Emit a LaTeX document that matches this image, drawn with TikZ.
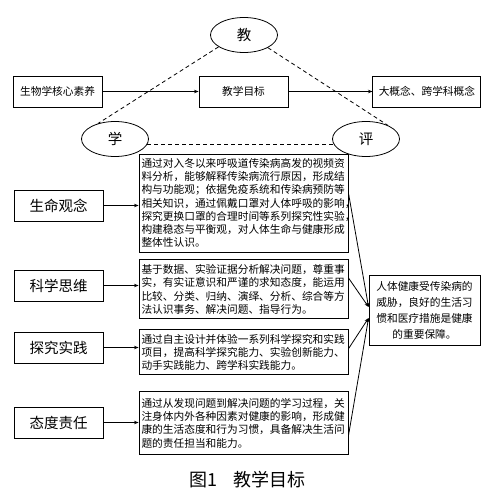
\documentclass[tikz,border=0pt]{standalone}
\usepackage{fontspec}
\setmainfont{Noto Sans CJK SC}
\usetikzlibrary{positioning,shapes.geometric,arrows.meta}

\begin{document}
\begin{tikzpicture}[x=1bp, y=-1bp, line width=0.8bp,
    every node/.style={inner sep=2bp},
    box/.style={draw, line width=0.9bp, minimum height=31bp, font=\fontsize{10.7bp}{12bp}\selectfont},
    lbl/.style={draw, line width=0.9bp, minimum width=89bp, minimum height=31bp, font=\fontsize{14.5bp}{16bp}\selectfont},
    txt/.style={draw, line width=0.9bp, text width=204bp, inner xsep=2.5bp, align=left, font=\fontsize{10.7bp}{13.3bp}\selectfont},
    oval/.style={draw, ellipse, minimum width=67bp, minimum height=35bp, font=\fontsize{14.5bp}{16bp}\selectfont},
    arr/.style={-{Stealth[length=4.5bp,width=3.5bp]}},
    link/.style={dash pattern=on 4bp off 3bp}]
    \useasboundingbox (0,0) rectangle (494,497);

    % 教 学 评
    \node[oval] (jiao) at (244,35) {教};
    \node[oval] (xue) at (115,139) {学};
    \node[oval] (ping) at (366,139) {评};

    \node[box, minimum width=89bp] (aim) at (243.5,91.5) {教学目标};
    \node[box, minimum width=89bp] (core) [left=96bp of aim] {生物学核心素养};
    \node[box, minimum width=108bp] (big) [right=84bp of aim] {大概念、跨学科概念};

    \node[txt, minimum height=98bp] (tlife) at (243.5,203) {通过对入冬以来呼吸道传染病高发的视频资\\料分析，能够解释传染病流行原因，形成结\\构与功能观；依据免疫系统和传染病预防等\\相关知识，通过佩戴口罩对人体呼吸的影响，\\探究更换口罩的合理时间等系列探究性实验，\\构建稳态与平衡观，对人体生命与健康形成\\整体性认识。};
    \node[txt, minimum height=59bp] (tsci) [below=7bp of tlife] {基于数据、实验证据分析解决问题，尊重事\\实，有实证意识和严谨的求知态度，能运用\\比较、分类、归纳、演绎、分析、综合等方\\法认识事务、解决问题、指导行为。};
    \node[txt, minimum height=45bp] (tinq) [below=10bp of tsci] {通过自主设计并体验一系列科学探究和实践\\项目，提高科学探究能力、实验创新能力、\\动手实践能力、跨学科实践能力。};
    \node[txt, minimum height=63bp] (tresp) [below=16bp of tinq] {通过从发现问题到解决问题的学习过程，关\\注身体内外各种因素对健康的影响，形成健\\康的生活态度和行为习惯，具备解决生活问\\题的责任担当和能力。};

    \node[lbl] (life) at (58.5,205.5) {生命观念};
    \node[lbl] (sci) at (58.5,285.5) {科学思维};
    \node[lbl] (inq) at (58.5,347.5) {探究实践};
    \node[lbl] (resp) at (58.5,422.5) {态度责任};

    \node[draw, line width=0.9bp, text width=100bp, minimum width=111bp, minimum height=70bp, align=center, font=\fontsize{10.7bp}{16bp}\selectfont] (sum) at (424.5,310) {人体健康受传染病的\\威胁，良好的生活习\\惯和医疗措施是健康\\的重要保障。};

    \node[font=\fontsize{18bp}{20bp}\selectfont] (cap) at (247.5,480) {图1\hspace{0.9em}教学目标};

    \draw[arr] (core) -- (aim);
    \draw[arr] (aim) -- (big);
    \draw[link] (jiao.205) -- (xue.138);
    \draw[link] (jiao.332) -- (ping.32);
    \draw[link] (xue.350) -- (ping.190);
    \foreach \a/\b in {life/tlife, sci/tsci, inq/tinq, resp/tresp}
      \draw[arr] (\a.east) -- (\a.east -| \b.west);
    \coordinate (ina) at ([yshift=3bp]sum.west);
    \coordinate (inb) at ([yshift=-8bp]sum.west);
    \draw[arr] ([yshift=10bp]tlife.east) -- (ina);
    \draw[arr] ([yshift=11.5bp]tsci.east) -- (ina);
    \draw[arr] ([yshift=3.5bp]tinq.east) -- (inb);
    \draw[arr] ([yshift=-12.5bp]tresp.east) -- (inb);
\end{tikzpicture}
\end{document}
